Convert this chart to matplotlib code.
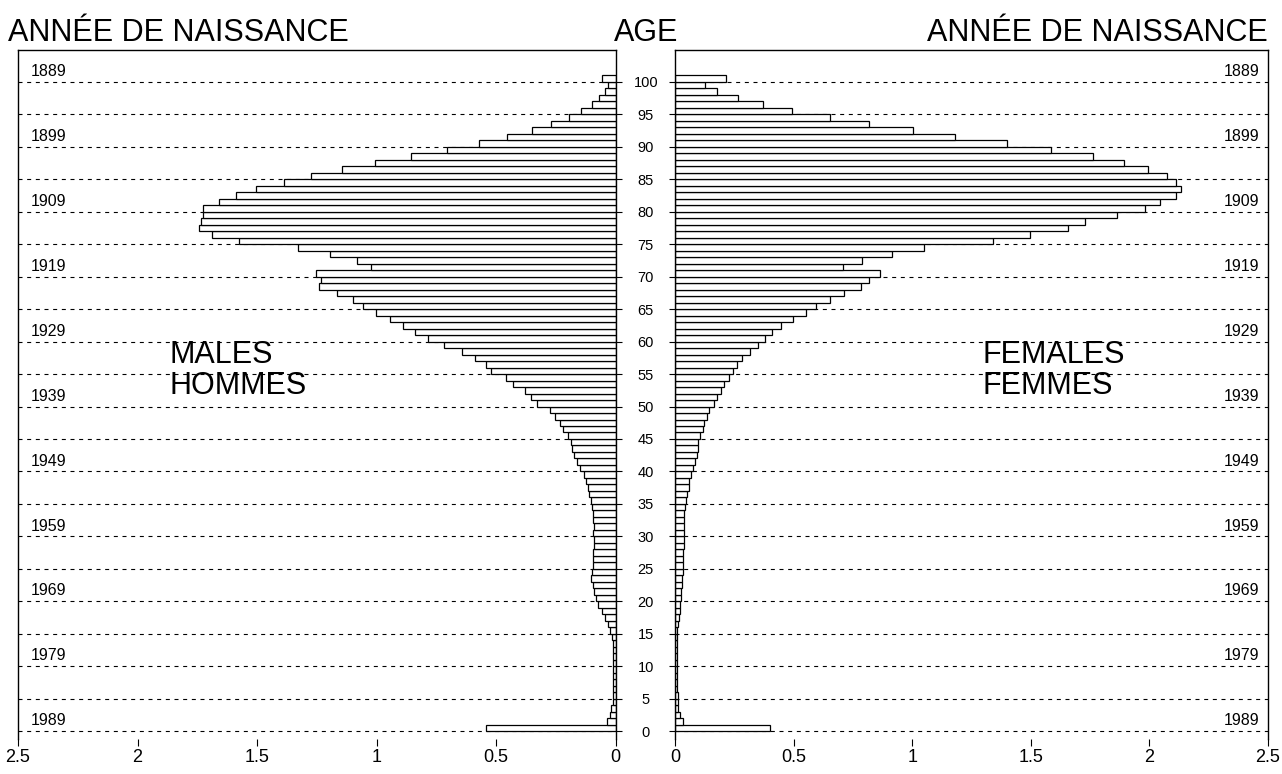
import matplotlib
matplotlib.use("Agg")
import matplotlib.pyplot as plt
import matplotlib.transforms as mtransforms
import numpy as np

plt.rcParams['font.family'] = ['Liberation Sans', 'DejaVu Sans']

# ---------------- data ----------------
ages = list(range(0, 101))

males = [0.54, 0.037, 0.025, 0.018, 0.012, 0.010, 0.010, 0.010, 0.010, 0.010,
         0.010, 0.010, 0.011, 0.012, 0.015, 0.022, 0.030, 0.043, 0.058, 0.073,
         0.083, 0.090, 0.095, 0.101, 0.099, 0.094, 0.096, 0.095, 0.092, 0.091,
         0.094, 0.092, 0.094, 0.096, 0.099, 0.104, 0.109, 0.116, 0.124, 0.130,
         0.149, 0.160, 0.173, 0.180, 0.186, 0.200, 0.221, 0.233, 0.255, 0.276,
         0.328, 0.355, 0.378, 0.428, 0.459, 0.521, 0.540, 0.589, 0.642, 0.716,
         0.783, 0.839, 0.891, 0.942, 1.002, 1.058, 1.098, 1.165, 1.241, 1.232,
         1.253, 1.023, 1.082, 1.193, 1.330, 1.576, 1.687, 1.742, 1.735, 1.728,
         1.725, 1.660, 1.588, 1.505, 1.387, 1.275, 1.146, 1.005, 0.857, 0.703,
         0.570, 0.452, 0.349, 0.268, 0.196, 0.146, 0.100, 0.070, 0.045, 0.033,
         0.055]

females = [0.40, 0.033, 0.020, 0.012, 0.011, 0.011, 0.010, 0.010, 0.010, 0.010,
           0.010, 0.010, 0.010, 0.010, 0.010, 0.010, 0.013, 0.015, 0.020, 0.022,
           0.025, 0.027, 0.029, 0.031, 0.032, 0.034, 0.034, 0.035, 0.036, 0.036,
           0.038, 0.038, 0.039, 0.040, 0.043, 0.046, 0.052, 0.057, 0.061, 0.067,
           0.077, 0.085, 0.091, 0.095, 0.099, 0.106, 0.116, 0.123, 0.134, 0.144,
           0.165, 0.179, 0.193, 0.205, 0.227, 0.244, 0.261, 0.282, 0.315, 0.349,
           0.381, 0.410, 0.448, 0.497, 0.551, 0.593, 0.652, 0.714, 0.786, 0.816,
           0.866, 0.707, 0.788, 0.915, 1.051, 1.341, 1.497, 1.657, 1.730, 1.865,
           1.981, 2.043, 2.111, 2.133, 2.114, 2.074, 1.995, 1.891, 1.763, 1.585,
           1.398, 1.182, 1.005, 0.817, 0.652, 0.493, 0.369, 0.265, 0.176, 0.126,
           0.216]

age_ticks = list(range(0, 101, 5))
birth_years = [1889, 1899, 1909, 1919, 1929, 1939, 1949, 1959, 1969, 1979, 1989]
birth_ages = [100, 90, 80, 70, 60, 50, 40, 30, 20, 10, 0]
x_ticks = [0, 0.5, 1, 1.5, 2, 2.5]
x_ticklabels = ['0', '0.5', '1', '1.5', '2', '2.5']

# ---------------- layout ----------------
W, H = 1282, 774
fig = plt.figure(figsize=(W / 100, H / 100), dpi=100)

top_px, bot_px = 50, 739
ax_b = 1 - bot_px / H
ax_h = (bot_px - top_px) / H
axL = fig.add_axes([18 / W, ax_b, 597.5 / W, ax_h])
axR = fig.add_axes([675 / W, ax_b, 593 / W, ax_h])

ylim = (-1.2, 104.9)
dash = (0, (3.6, 4.2))

for ax, vals in ((axL, males), (axR, females)):
    ax.set_ylim(*ylim)
    for a in age_ticks:
        ax.axhline(a, color='black', lw=0.8, linestyle=dash, zorder=1)
    ax.barh(ages, vals, height=1.0, align='edge', color='white',
            edgecolor='black', linewidth=0.9, zorder=2)
    ax.spines['bottom'].set_visible(False)
    for s in ('top', 'left', 'right'):
        ax.spines[s].set_linewidth(1.0)
    ax.set_xticks(x_ticks)
    ax.set_xticklabels(x_ticklabels)
    ax.tick_params(axis='x', direction='out', length=5, width=0.8,
                   pad=2, labelsize=13)
    ax.set_yticks(age_ticks)

axL.set_xlim(2.5, 0)
axR.set_xlim(0, 2.5)

# central age axis
axL.yaxis.set_ticks_position('right')
axL.tick_params(axis='y', direction='out', length=4.3, width=0.8,
                pad=17.5, labelsize=10.5)
axL.set_yticklabels([str(a) for a in age_ticks])
for lab in axL.get_yticklabels():
    lab.set_horizontalalignment('center')

axR.yaxis.set_ticks_position('left')
axR.tick_params(axis='y', direction='out', length=4.3, width=0.8,
                labelleft=False)

# birth-year labels
trL = mtransforms.blended_transform_factory(axL.transAxes, axL.transData)
trR = mtransforms.blended_transform_factory(axR.transAxes, axR.transData)
for yr, a in zip(birth_years, birth_ages):
    axL.text(0.022, a + 1.6, str(yr), transform=trL,
             ha='left', va='center', fontsize=11.5)
    axR.text(0.985, a + 1.6, str(yr), transform=trR,
             ha='right', va='center', fontsize=11.5)

# panel labels
axL.text(0.253, 55.5, 'MALES\nHOMMES', transform=trL,
         ha='left', va='center', fontsize=22, linespacing=1.05)
axR.text(0.519, 55.5, 'FEMALES\nFEMMES', transform=trR,
         ha='left', va='center', fontsize=22, linespacing=1.05)

# titles
fig.text(8 / W, 1 - 41 / H, 'ANNÉE DE NAISSANCE', ha='left', va='baseline', fontsize=22)
fig.text(646 / W, 1 - 41 / H, 'AGE', ha='center', va='baseline', fontsize=22)
fig.text(1268 / W, 1 - 41 / H, 'ANNÉE DE NAISSANCE', ha='right', va='baseline', fontsize=22)

fig.savefig('out.png', dpi=100)
